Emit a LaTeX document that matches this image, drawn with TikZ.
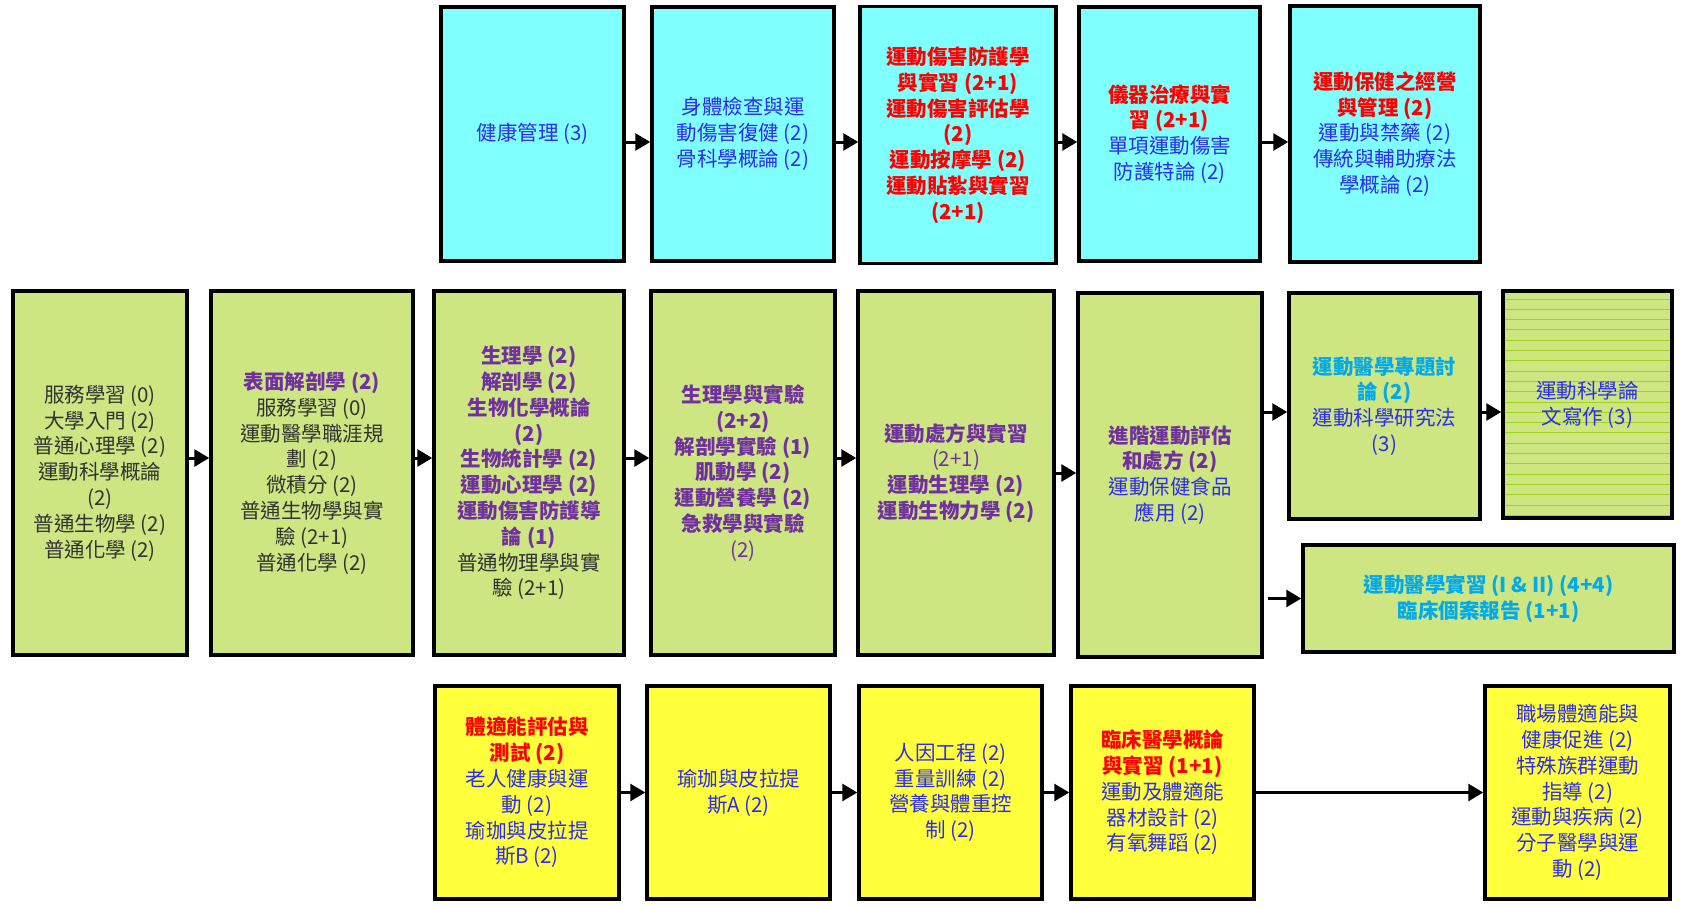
\documentclass[tikz,border=0pt]{standalone}
\usepackage{fontspec}
\newfontfamily\cjk{Noto Sans CJK TC}
\usetikzlibrary{arrows.meta,calc}
\definecolor{cyanfill}{RGB}{128,255,255}
\definecolor{greenfill}{RGB}{205,230,130}
\definecolor{yellowfill}{RGB}{255,255,60}
\definecolor{stripe}{RGB}{160,210,30}
\definecolor{txtblue}{RGB}{45,45,235}
\definecolor{txtred}{RGB}{255,0,0}
\definecolor{txtpurple}{RGB}{112,48,160}
\definecolor{txtsky}{RGB}{0,170,235}
\definecolor{txtdark}{RGB}{50,50,50}
\newcommand\myR[1]{{\color{txtred}\bfseries #1}}
\newcommand\myP[1]{{\color{txtpurple}\bfseries #1}}
\newcommand\myPn[1]{{\color{txtpurple}#1}}
\newcommand\myS[1]{{\color{txtsky}\bfseries #1}}
\newcommand\myD[1]{{\color{txtdark}#1}}
\tikzset{
  box/.style={draw=black, line width=3.5pt, inner sep=0pt, align=center,
    font=\cjk\fontsize{20.5}{25.8}\selectfont, text=txtblue},
  cbox/.style={box, fill=cyanfill},
  gbox/.style={box, fill=greenfill},
  ybox/.style={box, fill=yellowfill},
  arr/.style={line width=3pt, -{Triangle[length=15pt,width=17pt]}},
}
\begin{document}
\begin{tikzpicture}[x=1pt,y=-1pt]
\useasboundingbox (0,0) rectangle (1686,907);

% ---------- top row (cyan) ----------
\node[cbox, minimum width=183pt, minimum height=254pt] (A1) at (532.5,134) {健康管理 (3)};
\node[cbox, minimum width=182pt, minimum height=254pt] (A2) at (743,134) {身體檢查與運\\動傷害復健 (2)\\骨科學概論 (2)};
\node[cbox, minimum width=196pt, minimum height=257pt] (A3) at (958,135) {\myR{運動傷害防護學}\\\myR{與實習 (2+1)}\\\myR{運動傷害評估學}\\\myR{(2)}\\\myR{運動按摩學 (2)}\\\myR{運動貼紮與實習}\\\myR{(2+1)}};
\node[cbox, minimum width=181pt, minimum height=254pt] (A4) at (1169.5,134) {\myR{儀器治療與實}\\\myR{習 (2+1)}\\單項運動傷害\\防護特論 (2)};
\node[cbox, minimum width=190pt, minimum height=256pt] (A5) at (1385,134) {\myR{運動保健之經營}\\\myR{與管理 (2)}\\運動與禁藥 (2)\\傳統與輔助療法\\學概論 (2)};

% ---------- middle row (green) ----------
\node[gbox, minimum width=174pt, minimum height=364pt] (B1) at (100,473) {\myD{服務學習 (0)}\\\myD{大學入門 (2)}\\\myD{普通心理學 (2)}\\\myD{運動科學概論}\\\myD{(2)}\\\myD{普通生物學 (2)}\\\myD{普通化學 (2)}};
\node[gbox, minimum width=202pt, minimum height=364pt] (B2) at (312,473) {\myP{表面解剖學 (2)}\\\myD{服務學習 (0)}\\\myD{運動醫學職涯規}\\\myD{劃 (2)}\\\myD{微積分 (2)}\\\myD{普通生物學與實}\\\myD{驗 (2+1)}\\\myD{普通化學 (2)}};
\node[gbox, minimum width=190pt, minimum height=364pt] (B3) at (529,473) {\myP{生理學 (2)}\\\myP{解剖學 (2)}\\\myP{生物化學概論}\\\myP{(2)}\\\myP{生物統計學 (2)}\\\myP{運動心理學 (2)}\\\myP{運動傷害防護導}\\\myP{論 (1)}\\\myD{普通物理學與實}\\\myD{驗 (2+1)}};
\node[gbox, minimum width=184pt, minimum height=364pt] (B4) at (743,473) {\myP{生理學與實驗}\\\myP{(2+2)}\\\myP{解剖學實驗 (1)}\\\myP{肌動學 (2)}\\\myP{運動營養學 (2)}\\\myP{急救學與實驗}\\\myPn{(2)}};
\node[gbox, minimum width=196pt, minimum height=364pt] (B5) at (956,473) {\myP{運動處方與實習}\\\myPn{(2+1)}\\\myP{運動生理學 (2)}\\\myP{運動生物力學 (2)}};
\node[gbox, minimum width=184pt, minimum height=364pt] (B6) at (1170,475) {\myP{進階運動評估}\\\myP{和處方 (2)}\\運動保健食品\\應用 (2)};
\node[gbox, minimum width=191pt, minimum height=226pt] (B7) at (1384.5,406) {\myS{運動醫學專題討}\\\myS{論 (2)}\\運動科學研究法\\(3)};
\node[gbox, minimum width=169pt, minimum height=227pt,
  path picture={
    \foreach \k in {0,...,21}{
      \draw[stripe, line width=0.9pt]
        ([yshift=-\k*10.3pt-8pt]path picture bounding box.north west) --
        ([yshift=-\k*10.3pt-8pt]path picture bounding box.north east);
    }
  }] (B8) at (1587.5,404.5) {運動科學論\\文寫作 (3)};
\node[gbox, minimum width=371pt, minimum height=107pt] (B9) at (1488.5,598.5) {\myS{運動醫學實習 (I \& II) (4+4)}\\\myS{臨床個案報告 (1+1)}};

% ---------- bottom row (yellow) ----------
\node[ybox, minimum width=184pt, minimum height=213pt] (C1) at (527,792.5) {\myR{體適能評估與}\\\myR{測試 (2)}\\老人健康與運\\動 (2)\\瑜珈與皮拉提\\斯B (2)};
\node[ybox, minimum width=183pt, minimum height=213pt] (C2) at (738.5,792.5) {瑜珈與皮拉提\\斯A (2)};
\node[ybox, minimum width=183pt, minimum height=213pt] (C3) at (950.5,792.5) {人因工程 (2)\\重量訓練 (2)\\營養與體重控\\制 (2)};
\node[ybox, minimum width=183pt, minimum height=213pt] (C4) at (1162.5,792.5) {\myR{臨床醫學概論}\\\myR{與實習 (1+1)}\\運動及體適能\\器材設計 (2)\\有氧舞蹈 (2)};
\node[ybox, minimum width=185pt, minimum height=213pt] (C5) at (1577.5,792.5) {職場體適能與\\健康促進 (2)\\特殊族群運動\\指導 (2)\\運動與疾病 (2)\\分子醫學與運\\動 (2)};

% ---------- connectors ----------
\coordinate (ytop) at (0,142);
\coordinate (ymid) at (0,458);
\coordinate (ymidb) at (0,473);
\coordinate (yup) at (0,412);
\coordinate (s9) at (1268,598.5);

\draw[arr] (A1.east |- ytop) -- (A2.west |- ytop);
\draw[arr] (A2.east |- ytop) -- (A3.west |- ytop);
\draw[arr] (A3.east |- ytop) -- (A4.west |- ytop);
\draw[arr] (A4.east |- ytop) -- (A5.west |- ytop);

\draw[arr] (B1.east |- ymid) -- (B2.west |- ymid);
\draw[arr] (B2.east |- ymid) -- (B3.west |- ymid);
\draw[arr] (B3.east |- ymid) -- (B4.west |- ymid);
\draw[arr] (B4.east |- ymid) -- (B5.west |- ymid);
\draw[arr] (B5.east |- ymidb) -- (B6.west |- ymidb);
\draw[arr] (B6.east |- yup) -- (B7.west |- yup);
\draw[arr] (B7.east |- yup) -- (B8.west |- yup);
\draw[arr] (s9) -- (B9.west);

\draw[arr] (C1.east) -- (C2.west);
\draw[arr] (C2.east) -- (C3.west);
\draw[arr] (C3.east) -- (C4.west);
\draw[arr] (C4.east) -- (C5.west);
\end{tikzpicture}
\end{document}
